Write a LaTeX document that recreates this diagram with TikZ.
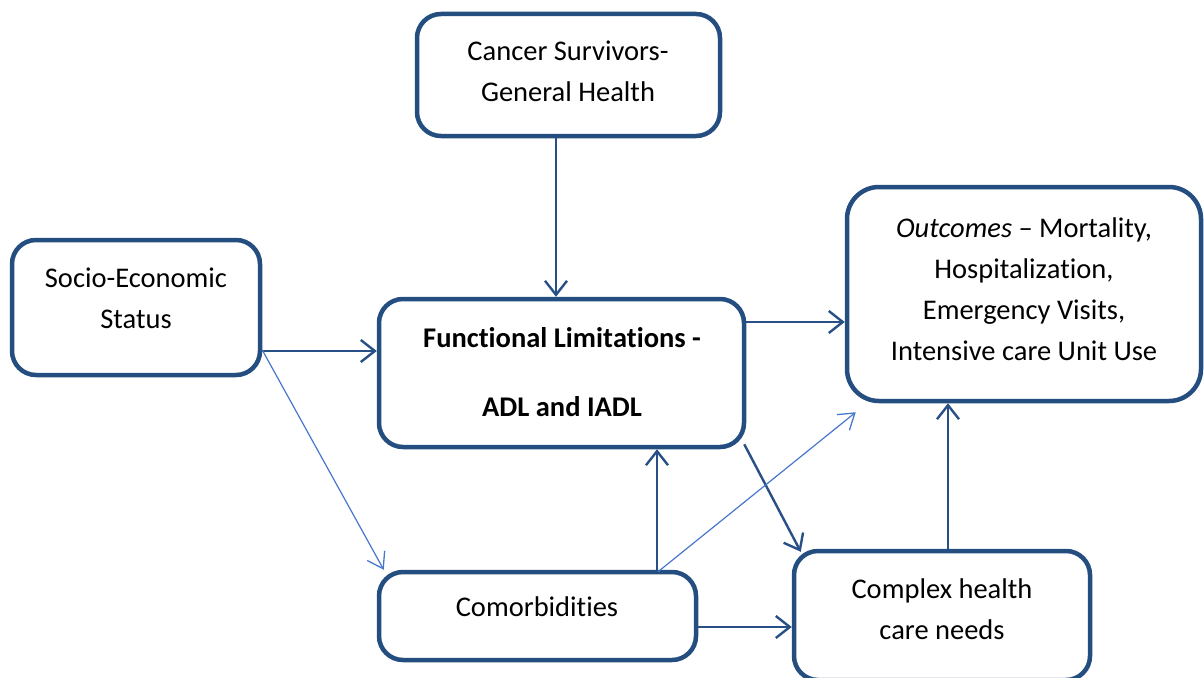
\documentclass[tikz,border=0pt]{standalone}
\usepackage{fontspec}
\setmainfont{Carlito}[Ligatures={TeX,NoCommon,NoContextual,NoRare},RawFeature={-liga;-clig;-dlig}]
\usetikzlibrary{arrows.meta,calc}
\definecolor{boxblue}{RGB}{37,78,128}
\definecolor{darkarrow}{RGB}{40,80,135}
\definecolor{lightarrow}{RGB}{72,118,205}
\tikzset{
  box/.style={draw=boxblue, line width=4.5pt, rounded corners=24pt, fill=white, inner sep=0pt},
  txt/.style={align=center, font=\fontsize{28.5}{41}\selectfont, inner sep=0pt},
  darr/.style={draw=darkarrow, line width=2.4pt, -{Straight Barb[length=14pt,width=22pt,line width=2.4pt]}},
  larr/.style={draw=lightarrow, line width=1.2pt, -{Straight Barb[length=15pt,width=20pt,line width=1.3pt]}},
}
\begin{document}
\begin{tikzpicture}[x=1pt,y=-1pt]
\useasboundingbox (0,0) rectangle (1204,677);
% boxes
\node[box, minimum width=303pt, minimum height=122pt] (cancer) at (568.5,75) {};
\node[box, minimum width=248pt, minimum height=135pt] (ses) at (136,307.5) {};
\node[box, minimum width=365pt, minimum height=148pt] (func) at (561.5,373) {};
\node[box, minimum width=354pt, minimum height=214pt, rounded corners=32pt] (out) at (1024,294) {};
\node[box, minimum width=317pt, minimum height=88pt] (comorb) at (537.5,616) {};
\node[box, minimum width=296pt, minimum height=129pt] (complex) at (942,615.5) {};
% texts
\node[txt] (cancerT) at (568,71) {Cancer Survivors-\\General Health};
\node[txt] (sesT) at (136,298) {Socio-Economic\\Status};
\node[txt, font=\fontsize{28.5}{41}\selectfont\bfseries] (funcT) at (562,372) {Functional Limit\kern0pt ations -\\[28pt]ADL and IADL};
\node[txt] (outT) at (1024,289) {\textit{Outcomes} -- Mortality,\\Hospitaliz\kern0pt at\kern0pt ion,\\Emergency Visits,\\Intensive care Unit Use};
\node[txt] (comorbT) at (537,607) {Comorbidit\kern0pt ies};
\node[txt] (complexT) at (942,609) {Complex health\\care needs};
% connectors
\draw[darr] ([xshift=-12.5pt]cancer.south) -- ([xshift=-12.5pt]cancer.south |- func.north);
\draw[darr] ([yshift=-43.5pt]ses.east) -- ([yshift=-43.5pt]ses.east -| func.west);
\draw[larr] ([yshift=-42.5pt]ses.east) -- ([xshift=7pt]comorb.north west);
\draw[darr] ([yshift=51pt]func.east) -- ([yshift=51pt]func.east -| out.west);
\draw[darr] ([xshift=-2pt,yshift=5pt]func.south east) -- ([xshift=9pt,yshift=-3pt]complex.north west);
\draw[darr] ([xshift=119.5pt]comorb.north) -- ([xshift=119.5pt]comorb.north |- func.south);
\draw[larr] ([xshift=120.5pt,yshift=-2pt]comorb.north) -- ([xshift=11pt,yshift=-9pt]out.south west);
\draw[darr] ([yshift=-11pt]comorb.east) -- ([yshift=-11pt]comorb.east -| complex.west);
\draw[darr] ([xshift=6pt]complex.north) -- ([xshift=6pt]complex.north |- out.south);
\end{tikzpicture}
\end{document}
